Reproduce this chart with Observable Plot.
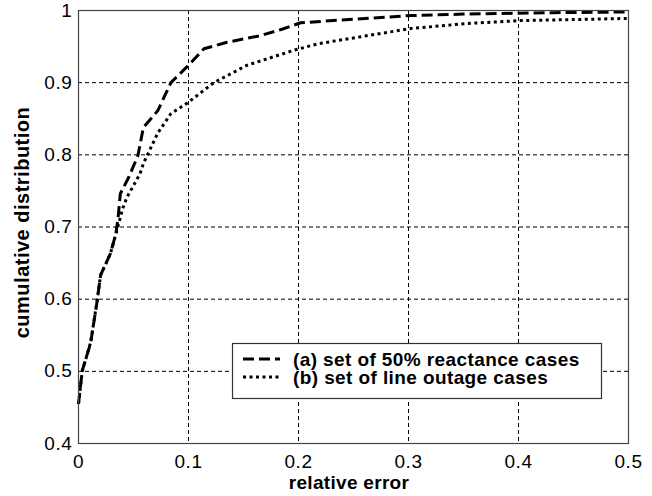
<!DOCTYPE html>
<html>
<head>
<meta charset="utf-8">
<script src="https://cdn.jsdelivr.net/npm/d3@7"></script>
<script src="https://cdn.jsdelivr.net/npm/@observablehq/plot@0.6"></script>
<style>
  html, body { margin: 0; padding: 0; background: white; }
  #chart { position: relative; width: 652px; height: 496px; }
</style>
</head>
<body>
<div id="chart"></div>
<script>
// ---- data ----
const xTicks = [0, 0.1, 0.2, 0.3, 0.4, 0.5];
const xTickLabels = ["0", "0.1", "0.2", "0.3", "0.4", "0.5"];
const yTicks = [0.4, 0.5, 0.6, 0.7, 0.8, 0.9, 1];
const yTickLabels = ["0.4", "0.5", "0.6", "0.7", "0.8", "0.9", "1"];

const seriesNames = ["(a) set of 50% reactance cases", "(b) set of line outage cases"];

// (a) 50% reactance cases — dashed
const xA = [0, 0.0034, 0.011, 0.017, 0.020, 0.029, 0.034, 0.036, 0.038, 0.046, 0.054, 0.059, 0.072, 0.084, 0.100, 0.114, 0.135, 0.165, 0.185, 0.202, 0.250, 0.302, 0.350, 0.432, 0.500];
const yA = [0.455, 0.501, 0.539, 0.598, 0.633, 0.663, 0.691, 0.713, 0.746, 0.770, 0.799, 0.838, 0.861, 0.900, 0.924, 0.947, 0.956, 0.965, 0.974, 0.983, 0.988, 0.993, 0.995, 0.997, 0.998];

// (b) line outage cases — dotted
const xB = [0, 0.0034, 0.011, 0.017, 0.020, 0.029, 0.034, 0.040, 0.044, 0.056, 0.059, 0.072, 0.084, 0.100, 0.123, 0.153, 0.196, 0.218, 0.262, 0.302, 0.353, 0.402, 0.500];
const yB = [0.455, 0.500, 0.540, 0.598, 0.633, 0.663, 0.690, 0.725, 0.741, 0.774, 0.788, 0.830, 0.857, 0.873, 0.900, 0.924, 0.945, 0.954, 0.965, 0.975, 0.982, 0.986, 0.989];

const dataA = xA.map((x, i) => ({x, y: yA[i]}));
const dataB = xB.map((x, i) => ({x, y: yB[i]}));

const FONT = "'Liberation Sans', Arial, Helvetica, sans-serif";
const xDomain = [xTicks[0], xTicks[xTicks.length - 1]];
const yDomain = [yTicks[0], yTicks[yTicks.length - 1]];

const plot = Plot.plot({
  width: 652,
  height: 496,
  marginTop: 10,
  marginLeft: 78,
  marginRight: 24,
  marginBottom: 53,
  style: {fontFamily: FONT, fontSize: "18px", color: "black", background: "white", overflow: "visible"},
  x: {domain: xDomain},
  y: {domain: yDomain},
  marks: [
    Plot.gridX(xTicks.slice(1, -1), {stroke: "black", strokeOpacity: 1, strokeWidth: 1, strokeDasharray: "4,3"}),
    Plot.gridY(yTicks.slice(1, -1), {stroke: "black", strokeOpacity: 1, strokeWidth: 1, strokeDasharray: "4,3"}),
    Plot.line(dataA, {x: "x", y: "y", stroke: "black", strokeWidth: 3, strokeDasharray: "11,5", strokeLinecap: "butt"}),
    Plot.line(dataB, {x: "x", y: "y", stroke: "black", strokeWidth: 3, strokeDasharray: "3,3.5", strokeLinecap: "butt"}),
    Plot.frame({stroke: "#444", strokeWidth: 1.2}),
    Plot.axisX(xTicks, {tickSize: 0, tickPadding: 11, label: null,
      tickFormat: d => xTickLabels[xTicks.indexOf(d)], fontSize: 19}),
    Plot.axisY(yTicks, {tickSize: 0, tickPadding: 6, label: null,
      tickFormat: d => yTickLabels[yTicks.indexOf(d)], fontSize: 19})
  ]
});

document.getElementById("chart").appendChild(plot);
d3.select(plot).selectAll("g[aria-label='x-axis tick label'] text, g[aria-label='y-axis tick label'] text")
  .style("letter-spacing", "0.6px");

// axis titles
const svg = d3.select(plot);
const xs = plot.scale("x"), ys = plot.scale("y");
const xMid = (xs.range[0] + xs.range[1]) / 2;
const yMid = (ys.range[0] + ys.range[1]) / 2;

svg.append("text")
  .attr("x", xMid - 4).attr("y", 489)
  .attr("text-anchor", "middle")
  .attr("font-family", FONT).attr("font-size", 19).attr("font-weight", "bold")
  .style("letter-spacing", "0.3px")
  .attr("fill", "black")
  .text("relative error");

svg.append("text")
  .attr("transform", `translate(29,${yMid - 4}) rotate(-90)`)
  .attr("text-anchor", "middle")
  .attr("font-family", FONT).attr("font-size", 20).attr("font-weight", "bold")
  .style("letter-spacing", "0.5px")
  .attr("fill", "black")
  .text("cumulative distribution");

// legend box
const lg = svg.append("g");
lg.append("rect")
  .attr("x", 232.5).attr("y", 343.5).attr("width", 369).attr("height", 55)
  .attr("fill", "white").attr("stroke", "#333").attr("stroke-width", 1.2);
const dashes = ["11,5", "3,3.5"];
seriesNames.forEach((name, i) => {
  const cy = 359 + i * 18;
  lg.append("line")
    .attr("x1", 243).attr("x2", 280).attr("y1", cy).attr("y2", cy)
    .attr("stroke", "black").attr("stroke-width", 3).attr("stroke-dasharray", dashes[i]);
  lg.append("text")
    .attr("x", 293).attr("y", cy).attr("dy", "0.36em")
    .attr("text-anchor", "start")
    .attr("font-family", FONT).attr("font-size", 19).attr("font-weight", "bold")
    .style("letter-spacing", "0.4px")
    .attr("fill", "black")
    .text(name);
});
</script>
</body>
</html>
